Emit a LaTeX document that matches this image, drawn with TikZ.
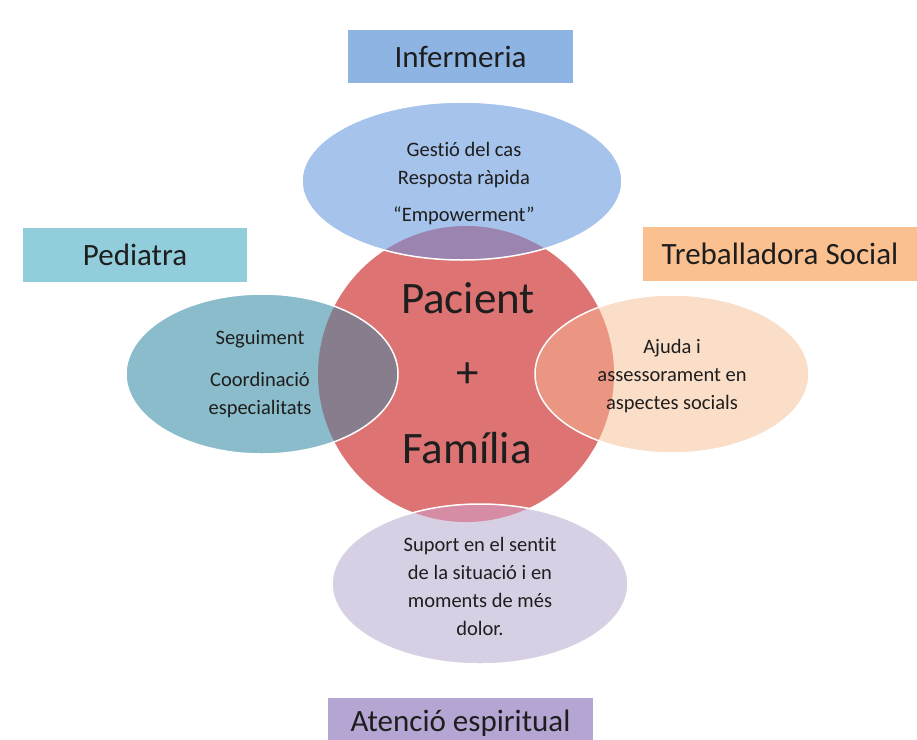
\documentclass[tikz,border=0pt]{standalone}
\usepackage{fontspec}
\setmainfont[Ligatures={NoCommon}]{Carlito}
\usetikzlibrary{positioning}

\definecolor{textgray}{RGB}{30,30,30}
\definecolor{pacred}{RGB}{222,115,115}
\definecolor{inferbox}{RGB}{141,180,226}
\definecolor{inferoval}{RGB}{165,195,235}
\definecolor{infermix}{RGB}{155,132,175}
\definecolor{pedbox}{RGB}{146,205,220}
\definecolor{pedoval}{RGB}{138,188,203}
\definecolor{pedmix}{RGB}{135,125,140}
\definecolor{socbox}{RGB}{250,192,143}
\definecolor{socoval}{RGB}{250,222,200}
\definecolor{socmix}{RGB}{235,150,130}
\definecolor{spibox}{RGB}{180,165,210}
\definecolor{spioval}{RGB}{215,208,228}
\definecolor{spimix}{RGB}{215,140,165}

\begin{document}
\begin{tikzpicture}[x=1pt,y=-1pt,
    rolebox/.style={rectangle, inner sep=0pt, text=textgray,
        font=\fontsize{31}{36}\selectfont},
    ovaltext/.style={align=center, inner sep=0pt, text=textgray,
        font=\fontsize{20.5}{28}\selectfont},
    bigtext/.style={inner sep=0pt, text=textgray,
        font=\fontsize{45}{50}\selectfont},
    rim/.style={draw=white, line width=1.5pt}]
\useasboundingbox (0,0) rectangle (917,739);

% role boxes
\node[rolebox, fill=inferbox, minimum width=225pt, minimum height=53pt]
    (infermeria) at (460.5,56.5) {Infermeria};
\node[rolebox, fill=pedbox, minimum width=224pt, minimum height=54pt]
    (pediatra) at (135,255) {Pediatra};
\node[rolebox, fill=socbox, minimum width=274pt, minimum height=54pt]
    (social) at (780,254) {Treballadora Social};
\node[rolebox, fill=spibox, minimum width=265pt, minimum height=50pt]
    (espiritual) at (460.5,723) {Atenció espiritual};

% patient circle
\coordinate (pac) at (466,374);
\fill[pacred] (pac) circle[radius=148pt];

% petals: centre / x radius / y radius / colour / overlap colour
\coordinate (infer) at (462,181);
\coordinate (ped) at (262,374);
\coordinate (soc) at (672,374);
\coordinate (spi) at (480,584);
\foreach \c/\rx/\ry/\col/\mix in {infer/160/79/inferoval/infermix,
        ped/136/80/pedoval/pedmix, soc/137/79/socoval/socmix,
        spi/148/80/spioval/spimix}{
    \fill[\col] (\c) ellipse[x radius=\rx pt, y radius=\ry pt];
    \begin{scope}
        \clip (pac) circle[radius=148pt];
        \fill[\mix] (\c) ellipse[x radius=\rx pt, y radius=\ry pt];
    \end{scope}
    \draw[rim] (\c) ellipse[x radius=\rx pt, y radius=\ry pt];
}

% texts
\node[ovaltext] (infertext) at (464,184)
    {Gestió del cas\\Resposta ràpida\\[9pt]“Empowerment”};
\node[ovaltext] (pedtext) at (260,374)
    {Seguiment\\[14pt]Coordinació\\especialitats};
\node[ovaltext] (soctext) at (672,376)
    {Ajuda i\\assessorament en\\aspectes socials};
\node[ovaltext] (spitext) at (480,586)
    {Suport en el sentit\\de la situació i en\\moments de més\\dolor.};
\node[bigtext] (pacient) at (468,298) {Pacient};
\node[bigtext] (plus) at (468,375) {+};
\node[bigtext] (familia) at (467,448) {Família};
\end{tikzpicture}
\end{document}
